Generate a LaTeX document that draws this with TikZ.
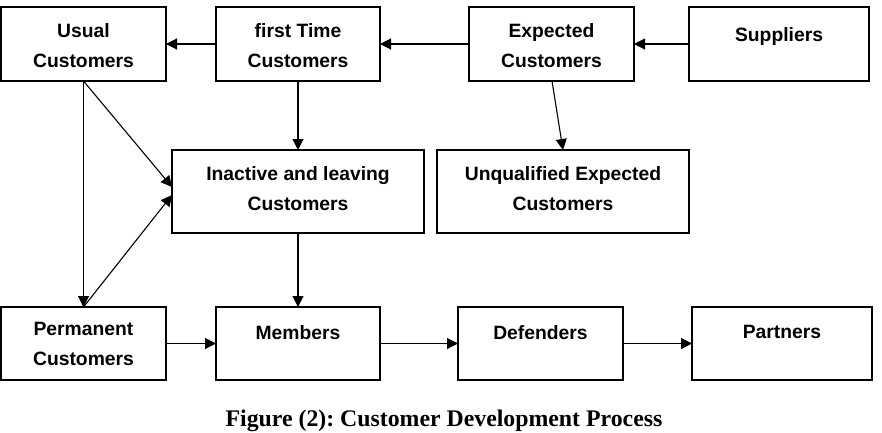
\documentclass[tikz,border=0pt]{standalone}
\usepackage{fontspec}
\setmainfont{Liberation Serif}
\setsansfont{Liberation Sans}
\usetikzlibrary{arrows.meta}
\frenchspacing
\begin{document}
\begin{tikzpicture}[x=1pt,y=-1pt,
  box/.style={draw,line width=1.2pt,inner sep=0pt,outer sep=0pt},
  txt/.style={font=\sffamily\bfseries\fontsize{19.3}{30.5}\selectfont,align=center,inner sep=0pt,anchor=north},
  arr/.style={line width=1.1pt,-{Triangle[length=11pt,width=11pt]}},
  ln/.style={line width=1.1pt}]
\useasboundingbox (0,0) rectangle (882,432);
% boxes
\node[box,minimum width=165pt,minimum height=74pt] (usual) at (83.5,44) {};
\node[box,minimum width=164pt,minimum height=74pt] (first) at (298,44) {};
\node[box,minimum width=165pt,minimum height=74pt] (expected) at (551.5,44) {};
\node[box,minimum width=180pt,minimum height=74pt] (suppliers) at (779,44) {};
\node[box,minimum width=252pt,minimum height=83pt] (inactive) at (298,191.5) {};
\node[box,minimum width=252pt,minimum height=83pt] (unqual) at (563,191.5) {};
\node[box,minimum width=165pt,minimum height=73pt] (perm) at (83.5,343.5) {};
\node[box,minimum width=164pt,minimum height=73pt] (members) at (298,343.5) {};
\node[box,minimum width=165pt,minimum height=73pt] (defenders) at (540.5,343.5) {};
\node[box,minimum width=180pt,minimum height=73pt] (partners) at (782,343.5) {};
% texts
\node[txt] (tusual) at (83.5,23) {Usual\\Customers};
\node[txt] (tfirst) at (298,23) {first Time\\Customers};
\node[txt] (texpected) at (551.5,23) {Expected\\Customers};
\node[txt] (tsuppliers) at (779,27) {Suppliers};
\node[txt] (tinactive) at (298,166) {Inactive and leaving\\Customers};
\node[txt] (tunqual) at (563,166) {Unqualified Expected\\Customers};
\node[txt] (tperm) at (83.5,322) {Permanent\\Customers};
\node[txt] (tmembers) at (298,325) {Members};
\node[txt] (tdefenders) at (540.5,325.5) {Defenders};
\node[txt] (tpartners) at (782,325.5) {Partners};
\node[font=\bfseries\fontsize{23.8}{28}\selectfont,anchor=base,inner sep=0pt] (caption) at (444,426) {Figure (2): Customer Development Process};
% coordinates
\coordinate (ui1) at (172,187);
\coordinate (ui2) at (172,195);
% connectors
\draw[arr] (first.west |- 0,44) -- (usual.east |- 0,44);
\draw[arr] (expected.west |- 0,44) -- (first.east |- 0,44);
\draw[arr] (suppliers.west |- 0,44) -- (expected.east |- 0,44);
\draw[arr] (first.south) -- (inactive.north);
\draw[arr] ([xshift=0.5pt]expected.south) -- (unqual.north);
\draw[arr] (usual.south) -- (ui1);
\draw[arr] (usual.south) -- (perm.north);
\draw[arr] (perm.north) -- (ui2);
\draw[arr] (inactive.south) -- (members.north);
\draw[arr] (perm.east) -- (members.west);
\draw[arr] (members.east) -- (defenders.west);
\draw[arr] (defenders.east) -- (partners.west);
\end{tikzpicture}
\end{document}
